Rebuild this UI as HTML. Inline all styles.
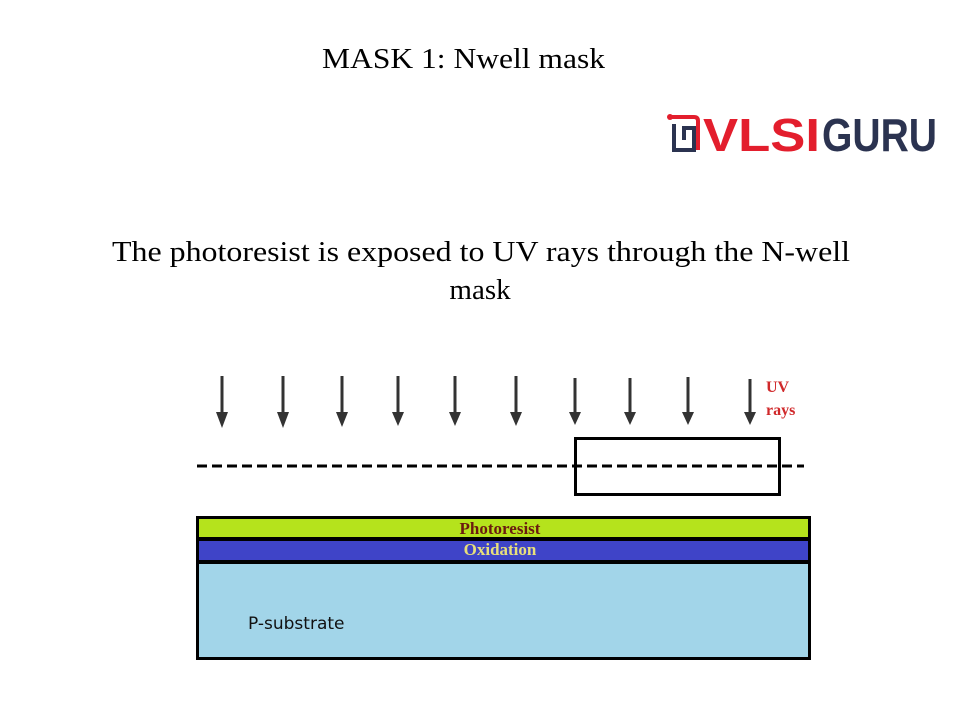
<!DOCTYPE html>
<html><head><meta charset="utf-8"><style>
html,body{margin:0;padding:0;background:#fff;}
svg{display:block;}
</style></head><body>
<svg width="960" height="720" viewBox="0 0 960 720" xmlns="http://www.w3.org/2000/svg">
<rect width="960" height="720" fill="#fff"/>
<g font-family="Liberation Serif, serif" fill="#000">
<text x="322" y="68" font-size="29" textLength="283" lengthAdjust="spacingAndGlyphs">MASK 1: Nwell mask</text>
<text x="112" y="261" font-size="29" textLength="738" lengthAdjust="spacingAndGlyphs">The photoresist is exposed to UV rays through the N-well</text>
<text x="480" y="299" font-size="29" text-anchor="middle">mask</text>
</g>
<!-- logo -->
<g>
<path d="M670 117 H694 Q698 117 698 121 V150" fill="none" stroke="#e31e2d" stroke-width="4"/>
<circle cx="670" cy="117" r="3" fill="#e31e2d"/>
<path d="M674 124 V150 H694 V128 H684 V140" fill="none" stroke="#2b3350" stroke-width="4"/>
<text x="703" y="151" font-family="Liberation Sans, sans-serif" font-weight="bold" font-size="46" fill="#e31e2d" textLength="117" lengthAdjust="spacingAndGlyphs">VLSI</text>
<text x="822" y="151" font-family="Liberation Sans, sans-serif" font-weight="bold" font-size="46" fill="#2b3350" textLength="115" lengthAdjust="spacingAndGlyphs">GURU</text>
</g>
<!-- arrows -->
<g fill="#333" stroke="#333">
<g stroke-width="3">
<line x1="222" y1="376" x2="222" y2="414"/><line x1="283" y1="376" x2="283" y2="414"/>
<line x1="342" y1="376" x2="342" y2="414"/><line x1="398" y1="376" x2="398" y2="414"/>
<line x1="455" y1="376" x2="455" y2="414"/><line x1="516" y1="376" x2="516" y2="414"/>
<line x1="575" y1="378" x2="575" y2="414"/><line x1="630" y1="378" x2="630" y2="414"/>
<line x1="688" y1="377" x2="688" y2="414"/><line x1="750" y1="379" x2="750" y2="414"/>
</g>
<g stroke="none">
<polygon points="216,412 228,412 222,428"/><polygon points="277,412 289,412 283,428"/>
<polygon points="336,412 348,412 342,427"/><polygon points="392,412 404,412 398,426"/>
<polygon points="449,412 461,412 455,426"/><polygon points="510,412 522,412 516,426"/>
<polygon points="569,412 581,412 575,425"/><polygon points="624,412 636,412 630,425"/>
<polygon points="682,412 694,412 688,425"/><polygon points="744,412 756,412 750,425"/>
</g>
</g>
<text x="766" y="392" font-family="Liberation Serif, serif" font-weight="bold" font-size="16" fill="#d0282a">UV</text>
<text x="766" y="415" font-family="Liberation Serif, serif" font-weight="bold" font-size="16" fill="#d0282a">rays</text>
<!-- mask -->
<rect x="575.5" y="438.5" width="204" height="56" fill="none" stroke="#000" stroke-width="3"/>
<line x1="197" y1="466" x2="804" y2="466" stroke="#000" stroke-width="3" stroke-dasharray="10,5"/>
<!-- layers -->
<rect x="196" y="516" width="615" height="144" fill="#000"/>
<rect x="199" y="519" width="609" height="18" fill="#b5e31c"/>
<rect x="199" y="541" width="609" height="19" fill="#3f44c8"/>
<rect x="199" y="564" width="609" height="93" fill="#a2d5e9"/>
<text x="500" y="534" text-anchor="middle" font-family="Liberation Serif, serif" font-weight="bold" font-size="17" fill="#6b1a10">Photoresist</text>
<text x="500" y="555" text-anchor="middle" font-family="Liberation Serif, serif" font-weight="bold" font-size="17" fill="#e8e07a">Oxidation</text>
<text x="248" y="629" font-family="DejaVu Sans, sans-serif" font-size="17" fill="#111">P-substrate</text>
</svg>
</body></html>
